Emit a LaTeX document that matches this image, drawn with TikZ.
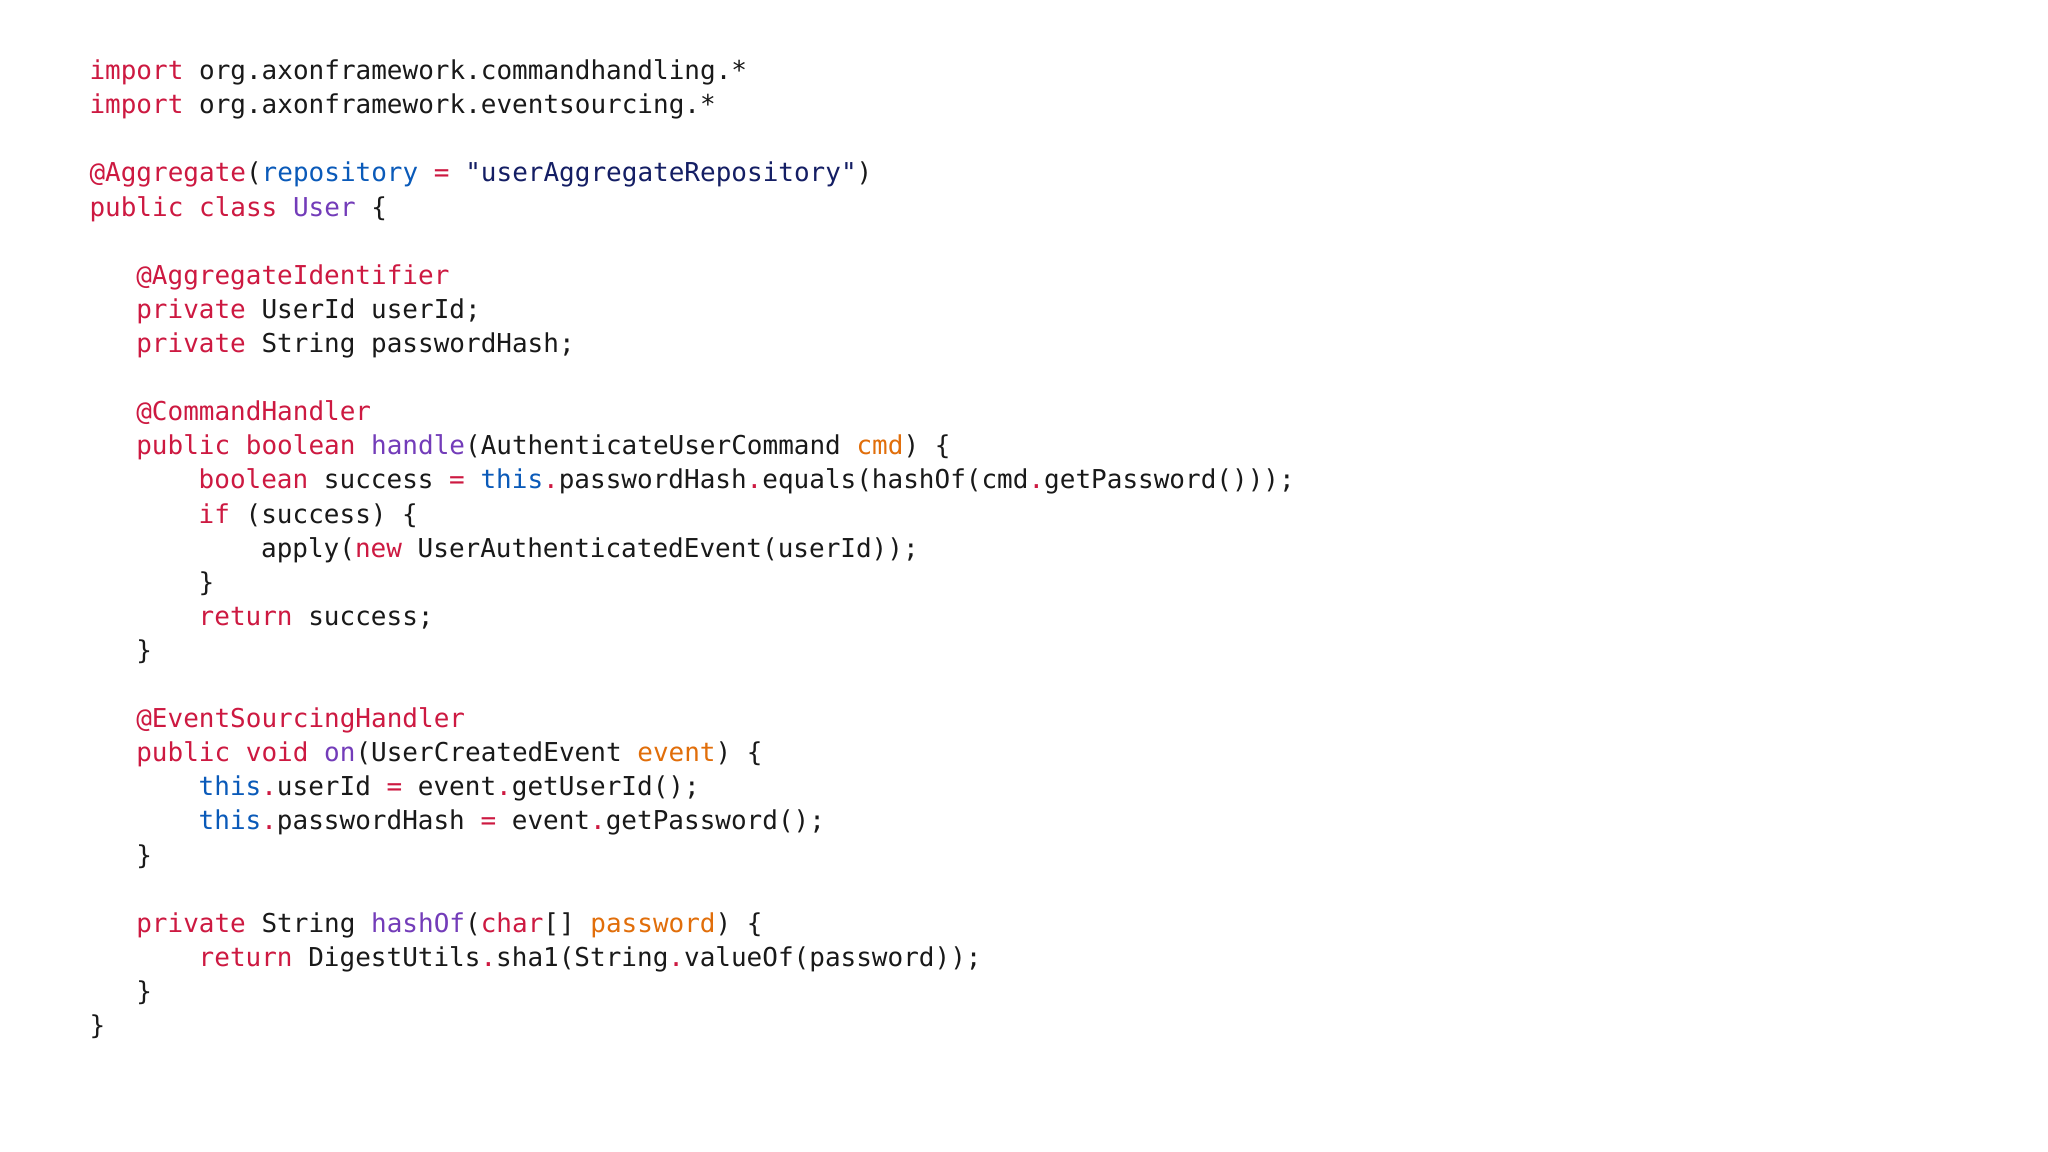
\documentclass[tikz,border=0pt]{standalone}
\usepackage{fontspec}
\setmonofont{DejaVu Sans Mono}
\definecolor{kw}{RGB}{205,25,65}
\definecolor{bl}{RGB}{10,90,185}
\definecolor{pu}{RGB}{115,60,185}
\definecolor{orng}{RGB}{225,110,10}
\definecolor{txt}{RGB}{25,25,25}
\definecolor{strc}{RGB}{20,30,100}
\newcommand{\kw}[1]{\textcolor{kw}{#1}}
\newcommand{\bl}[1]{\textcolor{bl}{#1}}
\newcommand{\pu}[1]{\textcolor{pu}{#1}}
\newcommand{\orn}[1]{\textcolor{orng}{#1}}
\newcommand{\stc}[1]{\textcolor{strc}{#1}}
\begin{document}
\begin{tikzpicture}[x=1cm,y=1cm,
  codeline/.style={anchor=base west,inner sep=0pt,text=txt,font=\ttfamily\fontsize{7.4}{8}\selectfont}]
\useasboundingbox[fill=white] (0,0) rectangle (20.48,-11.52);
\newcommand{\cl}[4]{\node[codeline] (#1) at ({0.888+#3*0.156},{-(0.797+(#2-1)*0.341)}) {#4};}
\cl{l1}{1}{0}{\kw{import} org.axonframework.commandhandling.*}
\cl{l2}{2}{0}{\kw{import} org.axonframework.eventsourcing.*}
\cl{l4}{4}{0}{\kw{@Aggregate}(\bl{repository} \kw{=} \stc{"userAggregateRepository"})}
\cl{l5}{5}{0}{\kw{public} \kw{class} \pu{User} \{}
\cl{l7}{7}{3}{\kw{@AggregateIdentifier}}
\cl{l8}{8}{3}{\kw{private} UserId userId;}
\cl{l9}{9}{3}{\kw{private} String passwordHash;}
\cl{l11}{11}{3}{\kw{@CommandHandler}}
\cl{l12}{12}{3}{\kw{public} \kw{boolean} \pu{handle}(AuthenticateUserCommand \orn{cmd}) \{}
\cl{l13}{13}{7}{\kw{boolean} success \kw{=} \bl{this}\kw{.}passwordHash\kw{.}equals(hashOf(cmd\kw{.}getPassword()));}
\cl{l14}{14}{7}{\kw{if} (success) \{}
\cl{l15}{15}{11}{apply(\kw{new} UserAuthenticatedEvent(userId));}
\cl{l16}{16}{7}{\}}
\cl{l17}{17}{7}{\kw{return} success;}
\cl{l18}{18}{3}{\}}
\cl{l20}{20}{3}{\kw{@EventSourcingHandler}}
\cl{l21}{21}{3}{\kw{public} \kw{void} \pu{on}(UserCreatedEvent \orn{event}) \{}
\cl{l22}{22}{7}{\bl{this}\kw{.}userId \kw{=} event\kw{.}getUserId();}
\cl{l23}{23}{7}{\bl{this}\kw{.}passwordHash \kw{=} event\kw{.}getPassword();}
\cl{l24}{24}{3}{\}}
\cl{l26}{26}{3}{\kw{private} String \pu{hashOf}(\kw{char}[] \orn{password}) \{}
\cl{l27}{27}{7}{\kw{return} DigestUtils\kw{.}sha1(String\kw{.}valueOf(password));}
\cl{l28}{28}{3}{\}}
\cl{l29}{29}{0}{\}}
\end{tikzpicture}
\end{document}
